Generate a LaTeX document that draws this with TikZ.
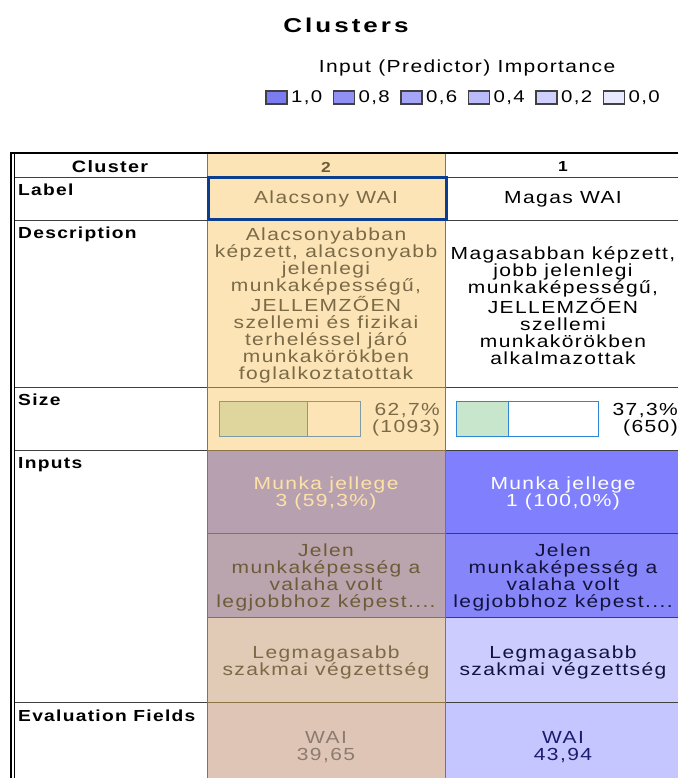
\documentclass[tikz,border=0pt]{standalone}
\usepackage{fontspec}
\setmainfont{Liberation Sans}[FakeStretch=1.2,LetterSpace=8]
\newfontfamily\titlefont{Liberation Sans}[FakeStretch=1.3,LetterSpace=15]
\definecolor{cbg}{HTML}{FCE4B6}
\definecolor{brownline}{HTML}{8C7344}
\definecolor{darkline}{HTML}{404040}
\definecolor{frameblue}{HTML}{0B3D91}
\definecolor{tbrown}{HTML}{7A6A48}
\definecolor{tbrownd}{HTML}{6E5C38}
\definecolor{inAb}{HTML}{B7A1B1}
\definecolor{inAa}{HTML}{8080FF}
\definecolor{inBb}{HTML}{BAA4AE}
\definecolor{inBa}{HTML}{8686FA}
\definecolor{inCb}{HTML}{E1CAB6}
\definecolor{inCa}{HTML}{CCCCFF}
\definecolor{evb}{HTML}{DFC5B5}
\definecolor{eva}{HTML}{C5C5FF}
\definecolor{tlight}{HTML}{FFE2A5}
\definecolor{tnavy}{HTML}{12123C}
\definecolor{tevb}{HTML}{8C7B70}
\definecolor{teva}{HTML}{1C1C6E}
\definecolor{barAfill}{HTML}{DED69C}
\definecolor{barAline}{HTML}{7C9BA7}
\definecolor{barBfill}{HTML}{C8E6CB}
\definecolor{barBline}{HTML}{2E86D8}
\definecolor{sw1}{HTML}{7B7BF2}
\definecolor{sw2}{HTML}{9090F5}
\definecolor{sw3}{HTML}{A6A6F8}
\definecolor{sw4}{HTML}{BBBBFA}
\definecolor{sw5}{HTML}{D0D0FC}
\definecolor{sw6}{HTML}{E8E8FE}
\tikzset{
  body/.style={inner sep=0pt,align=center,font=\fontsize{17.5}{17}\selectfont},
  rowhead/.style={inner sep=0pt,anchor=north west,font=\fontsize{16}{17}\selectfont\bfseries},
  swatch/.style={draw=darkline,line width=1.4pt},
  legtext/.style={inner sep=0pt,anchor=west,font=\fontsize{17}{17}\selectfont},
  dline/.style={draw=darkline,line width=1pt},
  bline/.style={draw=brownline,line width=1pt}
}
\begin{document}
\begin{tikzpicture}[x=1pt,y=-1pt]
\useasboundingbox (0,0) rectangle (678,778);
\fill[white] (0,0) rectangle (678,778);
% title and legend
\node[inner sep=0pt,font=\titlefont\fontsize{20}{20}\selectfont\bfseries] (title) at (346,25) {Clusters};
\node[inner sep=0pt,font=\fontsize{17.5}{17}\selectfont] (legtitle) at (467,68) {Input (Predictor) Importance};
\foreach \i/\c/\t in {0/sw1/{1,0},1/sw2/{0,8},2/sw3/{0,6},3/sw4/{0,4},4/sw5/{0,2},5/sw6/{0,0}}{
  \path[swatch,fill=\c] (266+67.5*\i,91) rectangle (287+67.5*\i,104);
  \node[legtext] (leg\i) at (291+67.5*\i,97.5) {\t};
}
% cell fills
\fill[cbg] (207,153) rectangle (445,450);
\fill[inAb] (207,450) rectangle (445,533);
\fill[inAa] (445,450) rectangle (678,533);
\fill[inBb] (207,533) rectangle (445,617);
\fill[inBa] (445,533) rectangle (678,617);
\fill[inCb] (207,617) rectangle (445,702);
\fill[inCa] (445,617) rectangle (678,702);
\fill[evb] (207,702) rectangle (445,778);
\fill[eva] (445,702) rectangle (678,778);
% grid lines
\foreach \y in {177,220,387,450,702}{
  \draw[dline] (14,\y) -- (678,\y);
  \draw[bline] (207,\y) -- (445,\y);
}
\foreach \y in {533,617}{
  \draw[dline] (445,\y) -- (678,\y);
  \draw[bline] (207,\y) -- (445,\y);
}
\draw[bline] (207,153) -- (207,778);
\draw[bline] (445,153) -- (445,778);
% outer border
\draw[black,line width=2pt] (11,153) -- (678,153);
\draw[black,line width=2pt] (11,152) -- (11,778);
\draw[black,line width=0.9pt] (14.5,154) -- (14.5,778);
% blue frame
\draw[frameblue,line width=3pt] (208,177) rectangle (446,219.5);
% header
\node[inner sep=0pt,font=\fontsize{16.5}{17}\selectfont\bfseries] (hclu) at (110,167) {Cluster};
\node[inner sep=0pt,font=\fontsize{14.5}{17}\selectfont\bfseries,text=tbrownd] (h2) at (326,167) {2};
\node[inner sep=0pt,font=\fontsize{14.5}{17}\selectfont\bfseries] (h1) at (563,167) {1};
% row heads
\node[rowhead] (rlabel) at (18,183.5) {Label};
\node[rowhead] (rdesc) at (18,226.5) {Description};
\node[rowhead] (rsize) at (18,394) {Size};
\node[rowhead] (rinputs) at (18,457.5) {Inputs};
\node[rowhead] (reval) at (18,709.5) {Evaluation Fields};
% label row
\node[body,text=tbrown] (lab2) at (326,199) {Alacsony WAI};
\node[body] (lab1) at (563,199) {Magas WAI};
% description row
\node[body,text=tbrown] (desc2) at (326,305.5) {Alacsonyabban\\képzett, alacsonyabb\\jelenlegi\\munkaképességű,\\JELLEMZŐEN\\szellemi és fizikai\\terheléssel járó\\munkakörökben\\foglalkoztatottak};
\node[body] (desc1) at (563,305.5) {Magasabban képzett,\\jobb jelenlegi\\munkaképességű,\\JELLEMZŐEN\\szellemi\\munkakörökben\\alkalmazottak};
% size row
\path[fill=barAfill] (219,401) rectangle (307,436);
\draw[barAline,line width=1pt] (219,401) rectangle (360,436) (307,401) -- (307,436);
\node[body,anchor=east,align=right,text=tbrown] (size2) at (440,419.5) {62,7\%\\(1093)};
\path[fill=barBfill] (456,401) rectangle (508,436);
\draw[barBline,line width=1pt] (456,401) rectangle (598,436) (508,401) -- (508,436);
\node[body,anchor=east,align=right] (size1) at (678,419.5) {37,3\%\\(650)};
% inputs
\node[body,text=tlight] (inA2) at (326,493.5) {Munka jellege\\3 (59,3\%)};
\node[body,text=white] (inA1) at (563,493.5) {Munka jellege\\1 (100,0\%)};
\node[body,text=tbrownd] (inB2) at (326,577.5) {Jelen\\munkaképesség a\\valaha volt\\legjobbhoz képest....};
\node[body,text=tnavy] (inB1) at (563,577.5) {Jelen\\munkaképesség a\\valaha volt\\legjobbhoz képest....};
\node[body,text=tbrown] (inC2) at (326,662) {Legmagasabb\\szakmai végzettség};
\node[body,text=tnavy] (inC1) at (563,662) {Legmagasabb\\szakmai végzettség};
% evaluation
\node[body,text=tevb] (ev2) at (326,747.5) {WAI\\39,65};
\node[body,text=teva] (ev1) at (563,747.5) {WAI\\43,94};
\end{tikzpicture}
\end{document}
